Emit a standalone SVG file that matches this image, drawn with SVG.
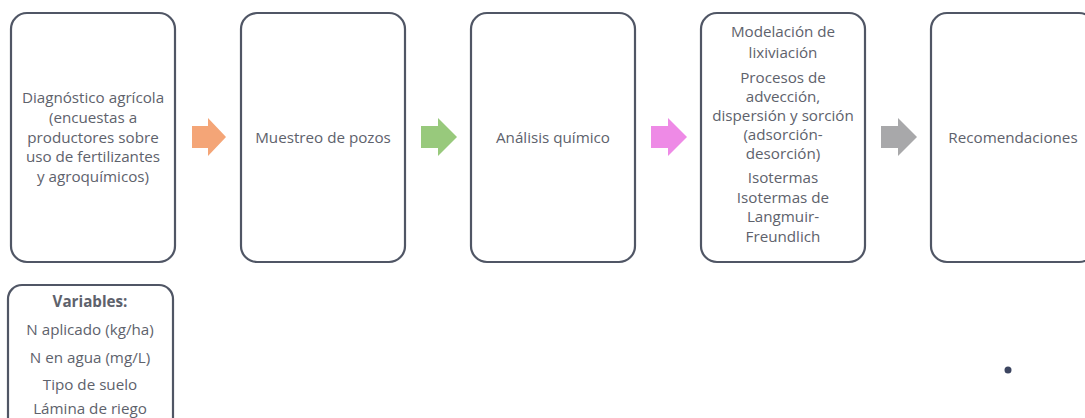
<svg xmlns="http://www.w3.org/2000/svg" width="1085" height="418" viewBox="0 0 1085 418">
<style>
.box{fill:#ffffff;stroke:#505665;stroke-width:2.2}
.t{font-family:"Open Sans","Liberation Sans",sans-serif;font-size:15.2px;fill:#5e626c;text-anchor:middle}
.b{font-weight:bold}
</style>
<rect width="1085" height="418" fill="#ffffff"/>
<g id="node-diagnostico">
<rect class="box" x="11" y="13" width="164" height="249" rx="16"/>
<text class="t" x="93" y="103">Diagnóstico agrícola</text>
<text class="t" x="93" y="123">(encuestas a</text>
<text class="t" x="93" y="143">productores sobre</text>
<text class="t" x="93" y="162">uso de fertilizantes</text>
<text class="t" x="93" y="182">y agroquímicos)</text>
</g>
<g id="node-muestreo">
<rect class="box" x="241" y="13" width="164" height="249" rx="16"/>
<text class="t" x="323" y="143">Muestreo de pozos</text>
</g>
<g id="node-analisis">
<rect class="box" x="471" y="13" width="164" height="249" rx="16"/>
<text class="t" x="553" y="143">Análisis químico</text>
</g>
<g id="node-modelacion">
<rect class="box" x="701" y="13" width="164" height="249" rx="16"/>
<text class="t" x="783" y="37">Modelación de</text>
<text class="t" x="783" y="58">lixiviación</text>
<text class="t" x="783" y="83">Procesos de</text>
<text class="t" x="783" y="102">advección,</text>
<text class="t" x="783" y="121">dispersión y sorción</text>
<text class="t" x="783" y="140">(adsorción-</text>
<text class="t" x="783" y="159">desorción)</text>
<text class="t" x="783" y="183">Isotermas</text>
<text class="t" x="783" y="203">Isotermas de</text>
<text class="t" x="783" y="222">Langmuir-</text>
<text class="t" x="783" y="242">Freundlich</text>
</g>
<g id="node-recomendaciones">
<rect class="box" x="931" y="13" width="164" height="249" rx="16"/>
<text class="t" x="1013" y="143">Recomendaciones</text>
</g>
<g id="node-variables">
<rect class="box" x="8" y="285" width="165" height="150" rx="14"/>
<text class="t b" x="90" y="307">Variables:</text>
<text class="t" x="90" y="335">N aplicado (kg/ha)</text>
<text class="t" x="90" y="363">N en agua (mg/L)</text>
<text class="t" x="90" y="390">Tipo de suelo</text>
<text class="t" x="90" y="414">Lámina de riego</text>
</g>
<g id="connectors">
<polygon fill="#f4a577" points="192,126 208,126 208,118 226,137 208,156 208,148 192,148"/>
<polygon fill="#98c97c" points="421,126 438,126 438,118 457,137 438,156 438,148 421,148"/>
<polygon fill="#ee8ae6" points="651,126 668,126 668,118 687,137 668,156 668,148 651,148"/>
<polygon fill="#a8a8aa" points="881,126 898,126 898,118 917,137 898,156 898,148 881,148"/>
</g>
<circle cx="1008" cy="370" r="3.5" fill="#3c4560"/>
</svg>
